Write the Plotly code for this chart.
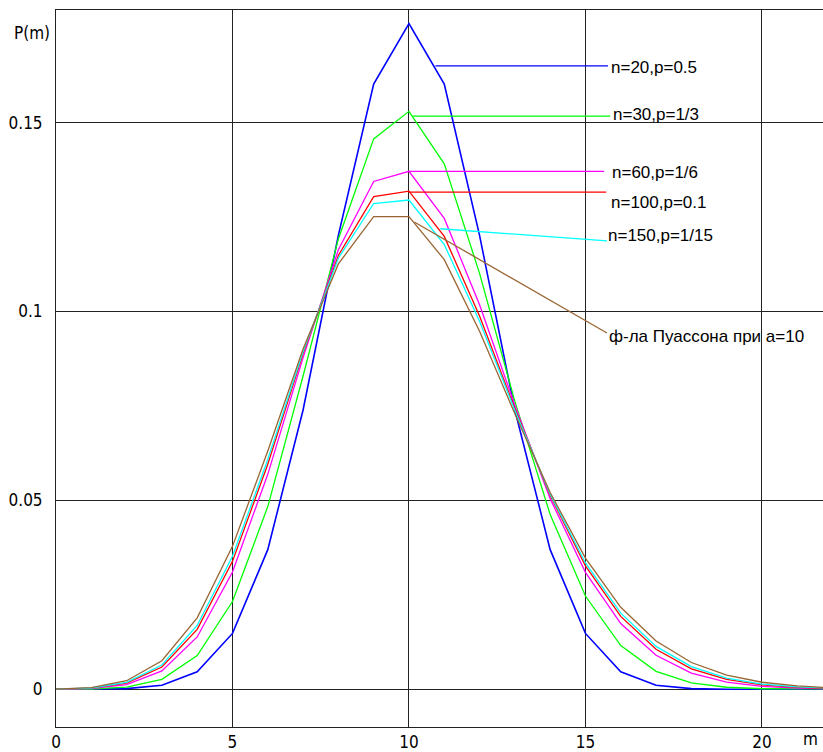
import plotly.graph_objects as go

# m values
m = list(range(0, 26))

# P(m) (binomial curves and Poisson curve)
p_n20 = [0.000001, 0.000019, 0.000181, 0.001087, 0.004621, 0.014786, 0.036964, 0.073929,
         0.120134, 0.160179, 0.176197, 0.160179, 0.120134, 0.073929, 0.036964, 0.014786,
         0.004621, 0.001087, 0.000181, 0.000019, 0.000001, 0.0, 0.0, 0.0, 0.0, 0.0]
p_n30 = [0.000005, 0.000078, 0.000567, 0.002646, 0.008930, 0.023218, 0.048371, 0.082922,
         0.119200, 0.145689, 0.152973, 0.139067, 0.110095, 0.076220, 0.046277, 0.024681,
         0.011569, 0.004764, 0.001720, 0.000543, 0.000149, 0.000036, 0.000007, 0.000001,
         0.0, 0.0]
p_n60 = [0.000018, 0.000213, 0.001257, 0.004862, 0.013856, 0.031037, 0.056901, 0.087790,
         0.116322, 0.134417, 0.137105, 0.124641, 0.101790, 0.075168, 0.050470, 0.030955,
         0.017412, 0.009013, 0.004306, 0.001904, 0.000781, 0.000297, 0.000105, 0.000035,
         0.000011, 0.000003]
p_n100 = [0.000027, 0.000295, 0.001623, 0.005892, 0.015875, 0.033866, 0.059579, 0.088895,
          0.114823, 0.130416, 0.131865, 0.119877, 0.098788, 0.074302, 0.051304, 0.032682,
          0.019291, 0.010591, 0.005426, 0.002602, 0.001171, 0.000496, 0.000198, 0.000075,
          0.000027, 0.000009]
p_n150 = [0.000032, 0.000343, 0.001826, 0.006435, 0.016892, 0.035232, 0.060816, 0.089361,
          0.114096, 0.128584, 0.129502, 0.117729, 0.097405, 0.073857, 0.051625, 0.033434,
          0.020150, 0.011345, 0.005988, 0.002971, 0.001390, 0.000615, 0.000258, 0.000102,
          0.000039, 0.000014]
p_pois = [0.000045, 0.000454, 0.002270, 0.007567, 0.018917, 0.037833, 0.063055, 0.090079,
          0.112599, 0.125110, 0.125110, 0.113736, 0.094780, 0.072908, 0.052077, 0.034718,
          0.021699, 0.012764, 0.007091, 0.003732, 0.001866, 0.000889, 0.000404, 0.000176,
          0.000073, 0.000029]

series_labels = ["n=20,p=0.5", "n=30,p=1/3", "n=60,p=1/6", "n=100,p=0.1",
                 "n=150,p=1/15", "ф-ла Пуассона при a=10"]

x_tick_vals = [0, 5, 10, 15, 20]
x_tick_text = ["0", "5", "10", "15", "20"]
y_tick_vals = [0, 0.05, 0.1, 0.15]
y_tick_text = ["0", "0.05", "0.1", "0.15"]

colors = ["#0000FF", "#00FF00", "#FF00FF", "#FF0000", "#00FFFF", "#996633"]
widths = [1.6, 1.3, 1.3, 1.3, 1.3, 1.3]
all_series = [p_n20, p_n30, p_n60, p_n100, p_n150, p_pois]

fig = go.Figure()
for ys, c, w, name in zip(all_series, colors, widths, series_labels):
    fig.add_trace(go.Scatter(x=m, y=ys, mode="lines", name=name,
                             line=dict(color=c, width=w), showlegend=False,
                             hoverinfo="x+y"))

# connector lines: (x0, y0, x1, y1) and label anchor (x, y)
connectors = [
    (10.75, 0.1650, 15.64, 0.1650),
    (10.09, 0.1517, 15.70, 0.1517),
    (9.98, 0.1371, 15.53, 0.1371),
    (9.98, 0.1316, 15.59, 0.1316),
    (10.89, 0.1219, 15.61, 0.1187),
    (10.15, 0.1237, 15.61, 0.0943),
]
label_pos = [
    (15.66, 0.1647),
    (15.72, 0.1521),
    (15.70, 0.1367),
    (15.67, 0.1288),
    (15.58, 0.1202),
    (15.61, 0.0935),
]

label_font = dict(family="Liberation Sans, Arial, sans-serif", size=17, color="#000000")
for (x0, y0, x1, y1), c in zip(connectors, colors):
    fig.add_shape(type="line", x0=x0, y0=y0, x1=x1, y1=y1, xref="x", yref="y",
                  line=dict(color=c, width=1.3))
for (lx, ly), txt in zip(label_pos, series_labels):
    fig.add_annotation(x=lx, y=ly, xref="x", yref="y", text=txt, showarrow=False,
                       xanchor="left", yanchor="middle", font=label_font)

tick_font = dict(family="DejaVu Sans Condensed, DejaVu Sans, sans-serif", size=17, color="#000000")

fig.add_annotation(x=-0.058, y=0.968, xref="paper", yref="paper", text="P(m)",
                   showarrow=False, xanchor="left", yanchor="middle", font=tick_font)
fig.add_annotation(x=0.971, y=-0.0167, xref="paper", yref="paper", text="m",
                   showarrow=False, xanchor="left", yanchor="middle", font=tick_font)

fig.update_layout(
    width=823, height=752,
    margin=dict(l=56, r=0, t=10, b=25, autoexpand=False),
    paper_bgcolor="white", plot_bgcolor="white",
    xaxis=dict(range=[0, 21.73], tickvals=x_tick_vals, ticktext=x_tick_text,
               showgrid=True, gridcolor="#222222", gridwidth=1, zeroline=False,
               showline=True, linecolor="#222222", linewidth=1, mirror=True,
               ticks="", tickfont=tick_font, ticklabelstandoff=0, automargin=False),
    yaxis=dict(range=[-0.00998, 0.1798], tickvals=y_tick_vals, ticktext=y_tick_text,
               showgrid=True, gridcolor="#222222", gridwidth=1, zeroline=False,
               showline=True, linecolor="#222222", linewidth=1,
               ticks="", tickfont=tick_font, ticklabelstandoff=9, automargin=False),
)

fig.write_html("out.html", config={"displayModeBar": False},
               post_script="document.body.style.margin='0';document.body.style.overflow='hidden';")
